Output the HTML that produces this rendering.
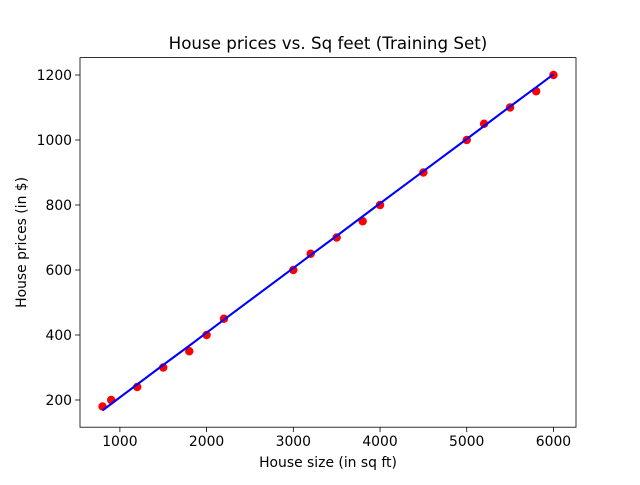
<!DOCTYPE html>
<html><head><meta charset="utf-8"><style>
body{margin:0;background:#fff;}
svg text{font-family:"DejaVu Sans","Liberation Sans",sans-serif;fill:#000;}
</style></head><body>
<svg id="chart" width="640" height="480" xmlns="http://www.w3.org/2000/svg">
<rect width="640" height="480" fill="#fff"/>
<text x="328" y="49" font-size="16.7" text-anchor="middle">House prices vs. Sq feet (Training Set)</text>
<g id="plot"></g>
<rect x="80" y="57.6" width="496" height="369.6" fill="none" stroke="#000" stroke-width="0.8"/>
<g id="xt"></g>
<g id="yt"></g>
<text x="328" y="467" font-size="13.9" text-anchor="middle">House size (in sq ft)</text>
<text transform="translate(26,242.4) rotate(-90)" font-size="13.9" text-anchor="middle">House prices (in $)</text>
</svg>
<script>
const sizes=[800,900,1200,1500,1800,2000,2200,3000,3200,3500,3800,4000,4500,5000,5200,5500,5800,6000];
const prices=[180,200,240,300,350,400,450,600,650,700,750,800,900,1000,1050,1100,1150,1200];
const predicted=[168,188,248,308,367,407,447,606,646,705,765,805,904,1003,1043,1103,1162,1202];
const xTicks=[1000,2000,3000,4000,5000,6000];
const yTicks=[200,400,600,800,1000,1200];
const NS='http://www.w3.org/2000/svg';
const L=80,R=576,T=57.6,B=427.2;
const xmin=540,xmax=6260,ymin=116.3,ymax=1253.5;
const sx=v=>L+(v-xmin)/(xmax-xmin)*(R-L);
const sy=v=>B-(v-ymin)/(ymax-ymin)*(B-T);
function mk(t,a,p){const e=document.createElementNS(NS,t);for(const k in a)e.setAttribute(k,a[k]);p.appendChild(e);return e;}
const plot=document.getElementById('plot');
sizes.forEach((s,i)=>{
 const c=mk('circle',{cx:sx(s),cy:sy(prices[i]),r:4.2,fill:'#ff0000'},plot);
 
 
});
const ln=mk('polyline',{points:sizes.map((s,i)=>sx(s)+','+sy(predicted[i])).join(' '),fill:'none',stroke:'#0000ff','stroke-width':2.1},plot);


const xt=document.getElementById('xt'),yt=document.getElementById('yt');
xTicks.forEach(v=>{
 const x=sx(v);
 mk('line',{x1:x,x2:x,y1:B,y2:B+4.9,stroke:'#000','stroke-width':0.8},xt);
 const t=mk('text',{x:x,y:B+19,'font-size':13.9,'text-anchor':'middle'},xt);t.textContent=v;
 
 
});
yTicks.forEach(v=>{
 const y=sy(v);
 mk('line',{x1:L-4.9,x2:L,y1:y,y2:y,stroke:'#000','stroke-width':0.8},yt);
 const t=mk('text',{x:L-8,y:y+5,'font-size':13.9,'text-anchor':'end'},yt);t.textContent=v;
 
 
});
</script>
</body></html>
